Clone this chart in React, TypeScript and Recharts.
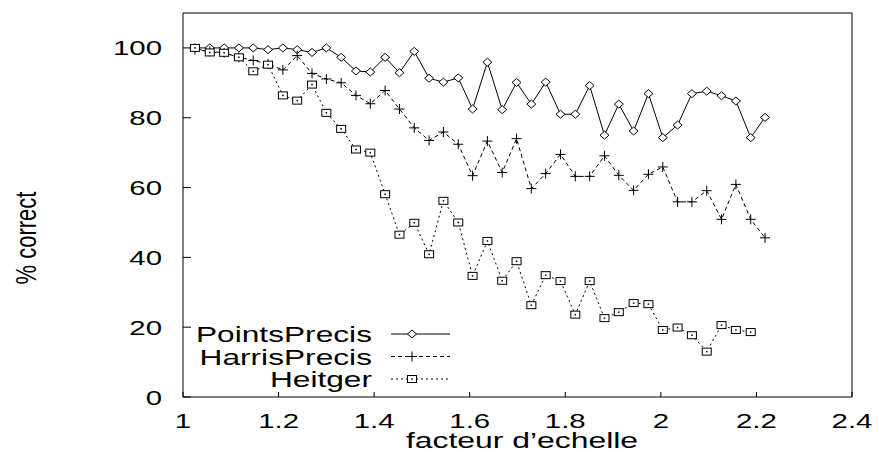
import React from "react"
import { Legend, Line, LineChart, XAxis, YAxis } from "recharts"

const xValues = [
  1.025, 1.056, 1.086, 1.117, 1.147, 1.178, 1.209, 1.239, 1.27, 1.3,
  1.331, 1.362, 1.392, 1.423, 1.453, 1.484, 1.515, 1.545, 1.576, 1.606,
  1.637, 1.668, 1.698, 1.729, 1.759, 1.79, 1.821, 1.851, 1.882, 1.912,
  1.943, 1.974, 2.004, 2.035, 2.065, 2.096, 2.127, 2.157, 2.188, 2.218,
]

const pointsPrecis = [
  100, 100, 100, 100, 100, 99.5, 100, 99.5, 98.7, 100,
  97.3, 93.4, 93.1, 97.3, 92.9, 99, 91.3, 90.2, 91.4, 82.5,
  95.9, 82.3, 90.1, 83.9, 90.2, 81, 81, 89.2, 75, 83.9,
  76.2, 86.9, 74.3, 77.9, 86.9, 87.6, 86.3, 84.8, 74.3, 80.1,
]

const harrisPrecis = [
  99.5, 99, 98.6, 97.3, 96.4, 95.4, 93.7, 97.8, 92.7, 91.1,
  90, 86.4, 84, 87.8, 82.5, 77.1, 73.5, 75.9, 72.4, 63.4,
  73.3, 64.3, 74, 59.7, 64, 69.5, 63.2, 63.2, 69.1, 63.5,
  59.2, 63.8, 65.9, 55.9, 55.9, 59.1, 50.9, 60.9, 50.9, 45.6,
]

const heitger = [
  100, 98.7, 98.6, 97.3, 93.3, 95.2, 86.4, 84.9, 89.5, 81.4,
  76.8, 70.9, 70, 58.1, 46.5, 49.9, 40.9, 56.2, 50, 34.7,
  44.7, 33.3, 38.9, 26.3, 34.9, 33.2, 23.6, 33.2, 22.6, 24.3,
  26.9, 26.6, 19.2, 19.9, 17.7, 13, 20.6, 19.2, 18.6,
]

const xTicks = [1, 1.2, 1.4, 1.6, 1.8, 2, 2.2, 2.4]
const yTicks = [0, 20, 40, 60, 80, 100]
const seriesNames = ["PointsPrecis", "HarrisPrecis", "Heitger"]

const data = xValues.map((x, i) => ({
  x,
  points: pointsPrecis[i],
  harris: harrisPrecis[i],
  heitger: heitger[i],
}))

const FONT = "'Liberation Sans', Arial, Helvetica, sans-serif"

function Diamond({ cx, cy }: { cx: number; cy: number }) {
  return <path d={`M${cx - 4.5},${cy}L${cx},${cy - 4}L${cx + 4.5},${cy}L${cx},${cy + 4}Z`} fill="#fff" stroke="#000" strokeWidth={1} />
}

function Plus({ cx, cy }: { cx: number; cy: number }) {
  return (
    <g stroke="#000" strokeWidth={1}>
      <line x1={cx - 5} y1={cy} x2={cx + 5} y2={cy} />
      <line x1={cx} y1={cy - 5} x2={cx} y2={cy + 5} />
    </g>
  )
}

function Square({ cx, cy }: { cx: number; cy: number }) {
  return (
    <g>
      <rect x={cx - 4.5} y={cy - 3.5} width={9} height={7} fill="#fff" stroke="#000" strokeWidth={1} />
      <rect x={cx - 0.75} y={cy - 0.75} width={1.5} height={1.5} fill="#000" />
    </g>
  )
}

const markers = [Diamond, Plus, Square]

function makeDot(Marker: typeof Diamond, name: string) {
  return (props: any) => {
    const { cx, cy, index, value } = props
    if (value == null || cx == null || cy == null) return <g key={`${name}-${index}`} />
    return (
      <g key={`${name}-${index}`}>
        <Marker cx={cx} cy={cy} />
      </g>
    )
  }
}

// gnuplot output is stretched sideways, so texts get a horizontal scale
function XTick({ x, y, payload }: any) {
  return (
    <text transform={`translate(${x},${y + 34}) scale(1.4,1)`} textAnchor="middle" fontSize={21} fontFamily={FONT} fill="#000">
      {payload.value}
    </text>
  )
}

function YTick({ x, y, payload }: any) {
  return (
    <text transform={`translate(${x - 27},${y + 7.5}) scale(1.4,1)`} textAnchor="end" fontSize={21} fontFamily={FONT} fill="#000">
      {payload.value}
    </text>
  )
}

const dashes = [undefined, "4 3", "2 3"]

function LegendBox() {
  return (
    <svg width={270} height={80}>
      {seriesNames.map((name, i) => {
        const Marker = markers[i]
        const ly = 16 + i * 22.5
        return (
          <g key={name}>
            <text transform={`translate(182,${ly + 8}) scale(1.44,1)`} textAnchor="end" fontSize={22} fontFamily={FONT} fill="#000">
              {name}
            </text>
            <line x1={201} y1={ly} x2={260} y2={ly} stroke="#000" strokeWidth={1} strokeDasharray={dashes[i]} />
            <Marker cx={222} cy={ly} />
          </g>
        )
      })}
    </svg>
  )
}

export default function App() {
  return (
    <div style={{ position: "absolute", left: 0, top: 0, width: 879, height: 452, background: "#fff" }}>
      <LineChart width={879} height={452} data={data} margin={{ top: 12, right: 26, left: 83, bottom: 0 }}>
        <XAxis
          dataKey="x"
          type="number"
          domain={[1, 2.4]}
          ticks={xTicks}
          height={55}
          tickSize={-5}
          tick={<XTick />}
          axisLine={{ stroke: "#000" }}
          tickLine={{ stroke: "#000" }}
          allowDataOverflow
          label={{
            content: () => (
              <text transform={`translate(522,448) scale(1.45,1)`} textAnchor="middle" fontSize={22} fontFamily={FONT} fill="#000">
                facteur d’echelle
              </text>
            ),
          }}
        />
        <XAxis
          xAxisId="top"
          orientation="top"
          type="number"
          domain={[1, 2.4]}
          ticks={xTicks}
          height={1}
          tickSize={-5}
          tick={false}
          axisLine={{ stroke: "#000" }}
          tickLine={{ stroke: "#000" }}
        />
        <YAxis
          type="number"
          domain={[0, 110]}
          ticks={yTicks}
          width={100}
          tickSize={-8}
          tick={<YTick />}
          axisLine={{ stroke: "#000" }}
          tickLine={{ stroke: "#000" }}
          label={{
            content: () => (
              <text transform={`translate(36,238) scale(1.3,1) rotate(-90)`} textAnchor="middle" fontSize={22} fontFamily={FONT} fill="#000">
                % correct
              </text>
            ),
          }}
        />
        <YAxis
          yAxisId="right"
          orientation="right"
          type="number"
          domain={[0, 110]}
          ticks={yTicks}
          width={1}
          tickSize={-8}
          tick={false}
          axisLine={{ stroke: "#000" }}
          tickLine={{ stroke: "#000" }}
        />
        <Legend
          layout="horizontal"
          verticalAlign="middle"
          align="center"
          wrapperStyle={{ left: 190, top: 318, width: 270, height: 80 }}
          content={() => <LegendBox />}
        />
        <Line dataKey="points" name={seriesNames[0]} stroke="#000" strokeWidth={1} dot={makeDot(Diamond, "p")} activeDot={false} isAnimationActive={false} />
        <Line dataKey="harris" name={seriesNames[1]} stroke="#000" strokeWidth={1} strokeDasharray="4 3" dot={makeDot(Plus, "h")} activeDot={false} isAnimationActive={false} />
        <Line dataKey="heitger" name={seriesNames[2]} stroke="#000" strokeWidth={1} strokeDasharray="2 3" dot={makeDot(Square, "g")} activeDot={false} isAnimationActive={false} />
      </LineChart>
    </div>
  )
}
